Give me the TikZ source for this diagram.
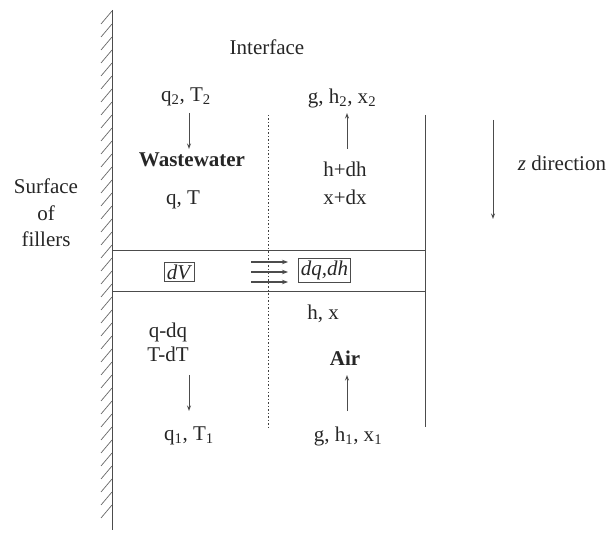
\documentclass[tikz,border=0pt]{standalone}
\usepackage{fontspec}
\setmainfont{Liberation Serif}
\usetikzlibrary{arrows.meta}
\begin{document}
\begin{tikzpicture}[x=1pt,y=-1pt,
  txt/.style={inner sep=0pt,font=\fontsize{21}{25}\selectfont,text=black!85},
  ln/.style={draw=black!70,line width=1pt},
  arr/.style={ln,-{Stealth[length=5.5pt,width=4pt]}},
  boxed/.style={txt,draw=black!70,line width=1.1pt,inner xsep=2pt,inner ysep=2.5pt}]
\useasboundingbox (0,0) rectangle (613,534);
% wall
\coordinate (wt) at (112,10);
\coordinate (wb) at (112,530);
\draw[ln] (wt) -- (wb);
\foreach \y in {24,37,...,530}{
  \draw[black!60,line width=0.7pt] (101,\y) -- (112,\y-13);
}
% band
\coordinate (b1l) at (112,251);
\coordinate (b1r) at (425,251);
\coordinate (b2l) at (112,292);
\coordinate (b2r) at (425,292);
\draw[ln] (b1l) -- (b1r);
\draw[ln] (b2l) -- (b2r);
% right wall
\coordinate (rt) at (425,115);
\coordinate (rb) at (425,427);
\draw[ln] (rt) -- (rb);
% interface dotted
\coordinate (it) at (268,115);
\coordinate (ib) at (268,427);
\draw[black!75,line width=0.9pt,dash pattern=on 1.5pt off 2pt] (it) -- (ib);
% texts
\node[txt] (interface) at (267,47) {Interface};
\node[txt] (q2) at (186,97) {q\textsubscript{2}, T\textsubscript{2}};
\node[txt,font=\fontsize{21}{25}\selectfont\bfseries] (ww) at (192,160) {Wastewater};
\node[txt] (qT) at (183,200) {q, T};
\node[txt] (g2) at (342,98) {g, h\textsubscript{2}, x\textsubscript{2}};
\node[txt] (hdh) at (345,169) {h+dh};
\node[txt] (xdx) at (345,197) {x+dx};
\node[txt,align=center,font=\fontsize{21}{26.5}\selectfont] (surf) at (46,213) {Surface\\of\\fillers};
\node[txt] (zdir) at (562,163) {\textit{z} direction};
\node[boxed] (dV) at (179.5,272) {\textit{dV}};
\node[boxed] (dqdh) at (324.5,270.5) {\textit{dq,dh}};
\node[txt] (hx) at (323,314) {h, x};
\node[txt] (qdq) at (168,332) {q-dq};
\node[txt] (TdT) at (168,354) {T-dT};
\node[txt,font=\fontsize{21}{25}\selectfont\bfseries] (air) at (345,358) {Air};
\node[txt] (q1) at (189,436) {q\textsubscript{1}, T\textsubscript{1}};
\node[txt] (g1) at (348,436) {g, h\textsubscript{1}, x\textsubscript{1}};
% arrows
\coordinate (a1s) at (189,113); \coordinate (a1e) at (189,149);
\draw[arr] (a1s) -- (a1e);
\coordinate (a2s) at (347,149); \coordinate (a2e) at (347,113);
\draw[arr] (a2s) -- (a2e);
\coordinate (a3s) at (189,375); \coordinate (a3e) at (189,411);
\draw[arr] (a3s) -- (a3e);
\coordinate (a4s) at (347,411); \coordinate (a4e) at (347,375);
\draw[arr] (a4s) -- (a4e);
\coordinate (zs) at (493,120); \coordinate (ze) at (493,219);
\draw[arr] (zs) -- (ze);
\foreach \y [count=\i] in {262,272,282}{
  \coordinate (h\i s) at (251,\y); \coordinate (h\i e) at (288,\y);
  \draw[ln,line width=1.2pt,-{Stealth[length=6pt,width=4.5pt]}] (h\i s) -- (h\i e);
}
\end{tikzpicture}
\end{document}
